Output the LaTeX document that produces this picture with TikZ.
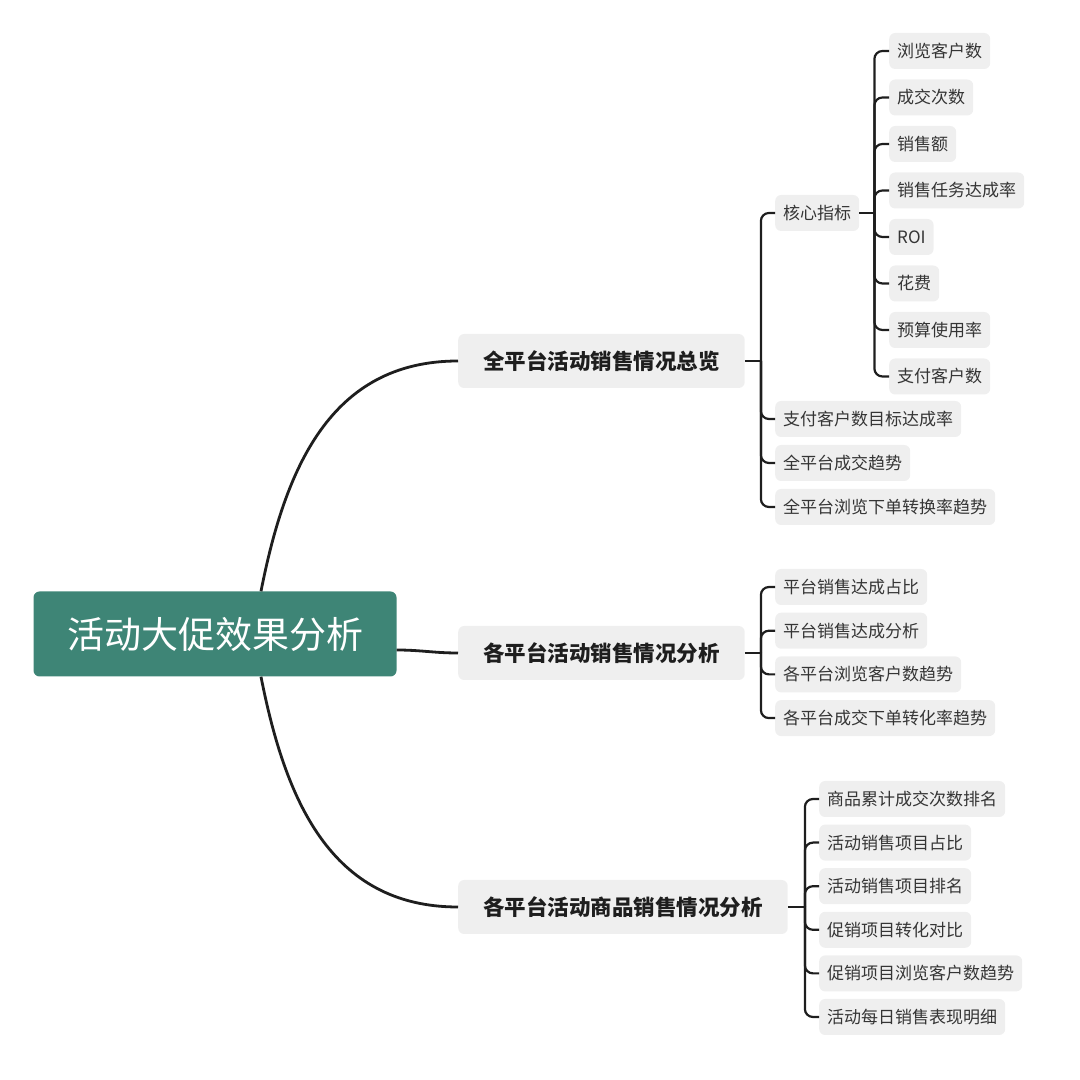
\documentclass[tikz,border=0pt]{standalone}
\usepackage{fontspec}
\setmainfont{Noto Sans CJK SC}
\usepackage{tikz}
\usetikzlibrary{positioning}

\definecolor{rootteal}{HTML}{3E8576}
\definecolor{boxgray}{HTML}{EFEFEF}
\definecolor{inkdark}{HTML}{1E1E1E}

\begin{document}
\begin{tikzpicture}[
    x=1pt, y=1pt,
    root_style/.style={fill=rootteal, text=white, rounded corners=6pt, minimum width=363pt, minimum height=85pt, inner sep=0pt, font=\fontsize{37}{42}\selectfont},
    topic_style/.style={fill=boxgray, text=inkdark, rounded corners=6pt, minimum height=54pt, inner xsep=25pt, inner ysep=0pt, anchor=west, font=\fontsize{21.5}{26}\selectfont\bfseries},
    leaf_style/.style={fill=boxgray, text=inkdark!90, rounded corners=6pt, minimum height=36pt, inner xsep=8pt, inner ysep=0pt, anchor=west, font=\fontsize{17}{20}\selectfont},
    trunk_style/.style={draw=inkdark, line width=2.8pt},
    branch_style/.style={draw=inkdark, line width=2.2pt, rounded corners=8pt}
]
\useasboundingbox (0,0) rectangle (1080,1080);

% Root node
\node[root_style] (R) at (215,446) {活动大促效果分析};

% Level 1
\node[topic_style] (T1) at (458,719) {全平台活动销售情况总览};
\node[topic_style] (T2) at (458,427) {各平台活动销售情况分析};
\node[topic_style] (T3) at (458,173) {各平台活动商品销售情况分析};

% Edges from root
\draw[trunk_style] ([xshift=46pt]R.north) .. controls +(24,122) and +(-128,0) .. (T1.west);
\draw[trunk_style] ([yshift=-16pt]R.east) to[out=0,in=180] (T2.west);
\draw[trunk_style] ([xshift=46pt]R.south) .. controls +(24,-122) and +(-128,0) .. (T3.west);

% Level 2 under T1
\node[leaf_style] (K) at (775,867) {核心指标};
\node[leaf_style, below=206pt of K.west, anchor=west] (T1B) {支付客户数目标达成率};
\node[leaf_style, below=44pt of T1B.west, anchor=west] (T1C) {全平台成交趋势};
\node[leaf_style, below=44pt of T1C.west, anchor=west] (T1D) {全平台浏览下单转换率趋势};

% Level 3 under K
\node[leaf_style] (K1) at (889,1029) {浏览客户数};
\node[leaf_style, below=46.5pt of K1.west, anchor=west] (K2) {成交次数};
\node[leaf_style, below=46.5pt of K2.west, anchor=west] (K3) {销售额};
\node[leaf_style, below=46.5pt of K3.west, anchor=west] (K4) {销售任务达成率};
\node[leaf_style, below=46.5pt of K4.west, anchor=west] (K5) {ROI};
\node[leaf_style, below=46.5pt of K5.west, anchor=west] (K6) {花费};
\node[leaf_style, below=46.5pt of K6.west, anchor=west] (K7) {预算使用率};
\node[leaf_style, below=46.5pt of K7.west, anchor=west] (K8) {支付客户数};

% Level 2 under T2
\node[leaf_style] (T2A) at (775,493) {平台销售达成占比};
\node[leaf_style, below=43.7pt of T2A.west, anchor=west] (T2B) {平台销售达成分析};
\node[leaf_style, below=43.7pt of T2B.west, anchor=west] (T2C) {各平台浏览客户数趋势};
\node[leaf_style, below=43.7pt of T2C.west, anchor=west] (T2D) {各平台成交下单转化率趋势};

% Level 2 under T3
\node[leaf_style] (T3A) at (819,281) {商品累计成交次数排名};
\node[leaf_style, below=43.6pt of T3A.west, anchor=west] (T3B) {活动销售项目占比};
\node[leaf_style, below=43.6pt of T3B.west, anchor=west] (T3C) {活动销售项目排名};
\node[leaf_style, below=43.6pt of T3C.west, anchor=west] (T3D) {促销项目转化对比};
\node[leaf_style, below=43.6pt of T3D.west, anchor=west] (T3E) {促销项目浏览客户数趋势};
\node[leaf_style, below=43.6pt of T3E.west, anchor=west] (T3F) {活动每日销售表现明细};

% Brackets from T1
\coordinate (J1) at ([xshift=16pt]T1.east);
\draw[branch_style] (T1.east) -- (J1);
\draw[branch_style] (J1) |- (K.west);
\draw[branch_style] (J1) |- (T1B.west);
\draw[branch_style] (J1) |- (T1C.west);
\draw[branch_style] (J1) |- (T1D.west);

% Brackets from K
\coordinate (JK) at ([xshift=15pt]K.east);
\draw[branch_style] (K.east) -- (JK);
\draw[branch_style] (JK) |- (K1.west);
\draw[branch_style] (JK) |- (K2.west);
\draw[branch_style] (JK) |- (K3.west);
\draw[branch_style] (JK) |- (K4.west);
\draw[branch_style] (JK) |- (K5.west);
\draw[branch_style] (JK) |- (K6.west);
\draw[branch_style] (JK) |- (K7.west);
\draw[branch_style] (JK) |- (K8.west);

% Brackets from T2
\coordinate (J2) at ([xshift=16pt]T2.east);
\draw[branch_style] (T2.east) -- (J2);
\draw[branch_style] (J2) |- (T2A.west);
\draw[branch_style] (J2) |- (T2B.west);
\draw[branch_style] (J2) |- (T2C.west);
\draw[branch_style] (J2) |- (T2D.west);

% Brackets from T3
\coordinate (J3) at ([xshift=17pt]T3.east);
\draw[branch_style] (T3.east) -- (J3);
\draw[branch_style] (J3) |- (T3A.west);
\draw[branch_style] (J3) |- (T3B.west);
\draw[branch_style] (J3) |- (T3C.west);
\draw[branch_style] (J3) |- (T3D.west);
\draw[branch_style] (J3) |- (T3E.west);
\draw[branch_style] (J3) |- (T3F.west);

\end{tikzpicture}
\end{document}
